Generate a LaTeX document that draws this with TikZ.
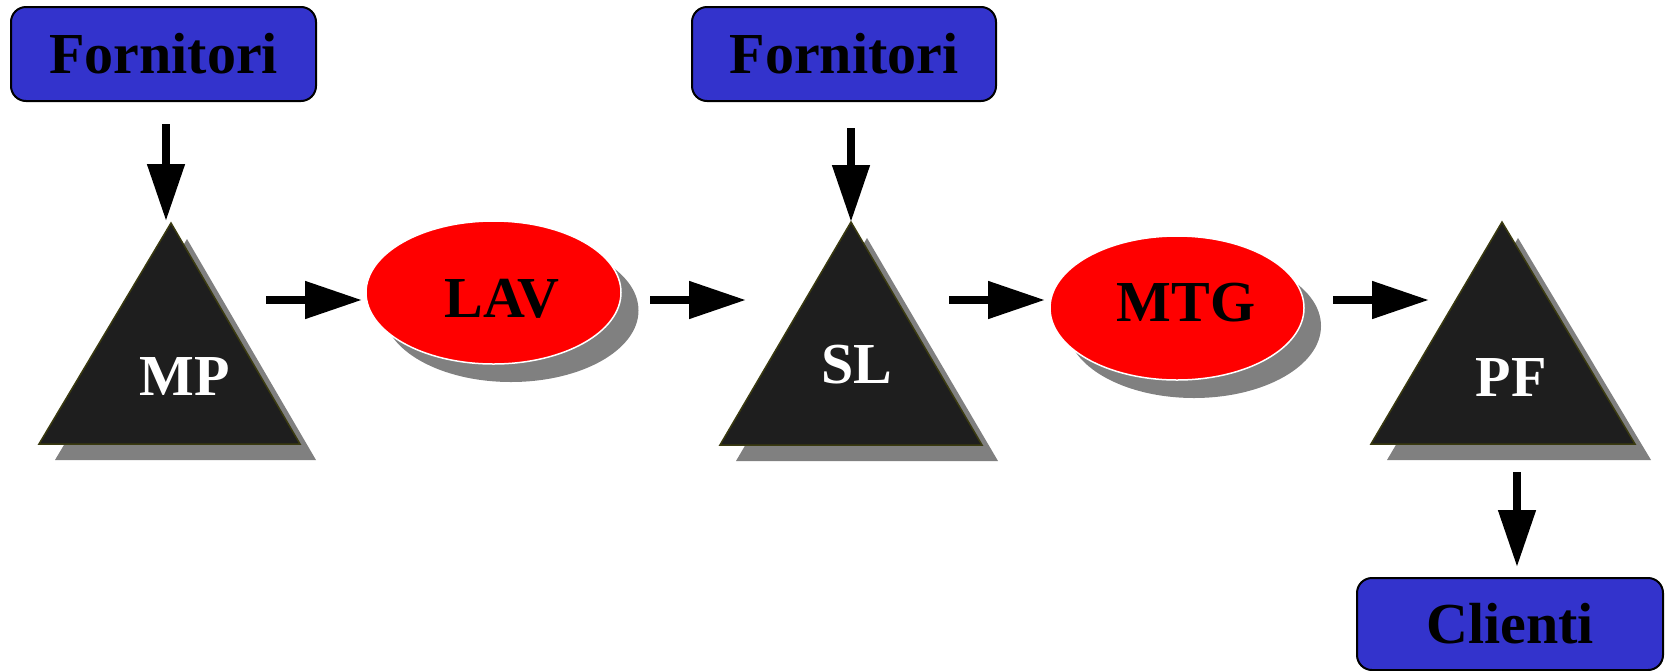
\documentclass[tikz,border=0pt]{standalone}
\usepackage{fontspec}
\setmainfont{Liberation Serif}
\usetikzlibrary{arrows.meta,shapes.geometric}
\definecolor{boxblue}{HTML}{3333CC}
\definecolor{trifill}{HTML}{1E1E1E}
\definecolor{triline}{HTML}{3A3A10}
\definecolor{shadowgray}{HTML}{808080}
\definecolor{ellred}{HTML}{FF0000}
\begin{document}
\begin{tikzpicture}[x=1pt,y=-1pt,
  bigfont/.style={font=\bfseries\fontsize{58}{60}\selectfont},
  boxnode/.style={draw=black, line width=2pt, fill=boxblue, rounded corners=15pt,
    inner sep=0pt, bigfont},
  trishape/.style={fill=trifill, draw=triline, line width=1.5pt, line join=miter},
  shadowfill/.style={fill=shadowgray},
  ellnode/.style={ellipse, fill=ellred, draw=white, line width=1.5pt, inner sep=0pt},
  ellshadow/.style={ellipse, fill=shadowgray, inner sep=0pt},
  trilabel/.style={bigfont, text=white, inner sep=0pt},
  elllabel/.style={bigfont, text=black, inner sep=0pt},
  arr/.style={line width=8pt, -{Triangle[length=57pt,width=36pt]}}
]
\useasboundingbox (0,0) rectangle (1668,670);

% boxes
\node[boxnode, minimum width=305pt, minimum height=94pt] (forn1) at (163.5,54) {Fornitori};
\node[boxnode, minimum width=304pt, minimum height=94pt] (forn2) at (844,54) {Fornitori};
\node[boxnode, minimum width=306pt, minimum height=92pt] (clienti) at (1510,624) {Clienti};

% triangle MP
\coordinate (mpA) at (171,223);
\coordinate (mpL) at (39,444);
\coordinate (mpR) at (300,444);
\fill[shadowfill] ([shift={(16,16)}]mpA) -- ([shift={(16,16)}]mpL) -- ([shift={(16,16)}]mpR) -- cycle;
\draw[trishape] (mpA) -- (mpL) -- (mpR) -- cycle;
\node[trilabel] (mp) at (185,377) {MP};

% triangle SL
\coordinate (slA) at (851,222);
\coordinate (slL) at (720,445);
\coordinate (slR) at (982,445);
\fill[shadowfill] ([shift={(16,16)}]slA) -- ([shift={(16,16)}]slL) -- ([shift={(16,16)}]slR) -- cycle;
\draw[trishape] (slA) -- (slL) -- (slR) -- cycle;
\node[trilabel] (sl) at (857,365) {SL};

% triangle PF
\coordinate (pfA) at (1502,222);
\coordinate (pfL) at (1371,444);
\coordinate (pfR) at (1635,444);
\fill[shadowfill] ([shift={(16,16)}]pfA) -- ([shift={(16,16)}]pfL) -- ([shift={(16,16)}]pfR) -- cycle;
\draw[trishape] (pfA) -- (pfL) -- (pfR) -- cycle;
\node[trilabel] (pf) at (1511,378) {PF};

% ellipses
\node[ellshadow, minimum width=255pt, minimum height=143pt] (lavsh) at (511,310.5) {};
\node[ellnode, minimum width=255pt, minimum height=143pt] (lavell) at (493.5,292.5) {};
\node[elllabel] (lav) at (502,299) {LAV};

\node[ellshadow, minimum width=254pt, minimum height=144pt] (mtgsh) at (1194,326) {};
\node[ellnode, minimum width=254pt, minimum height=144pt] (mtgell) at (1177,308) {};
\node[elllabel] (mtg) at (1186,303) {MTG};

% arrow endpoints
\coordinate (d1s) at (166,124);  \coordinate (d1e) at (166,221);
\coordinate (d2s) at (851,128);  \coordinate (d2e) at (851,222);
\coordinate (d3s) at (1517,472); \coordinate (d3e) at (1517,567);
\coordinate (h1s) at (266,300);  \coordinate (h1e) at (362,300);
\coordinate (h2s) at (650,300);  \coordinate (h2e) at (746,300);
\coordinate (h3s) at (949,300);  \coordinate (h3e) at (1045,300);
\coordinate (h4s) at (1333,300); \coordinate (h4e) at (1429,300);

\draw[arr] (d1s) -- (d1e);
\draw[arr] (d2s) -- (d2e);
\draw[arr] (d3s) -- (d3e);
\draw[arr] (h1s) -- (h1e);
\draw[arr] (h2s) -- (h2e);
\draw[arr] (h3s) -- (h3e);
\draw[arr] (h4s) -- (h4e);
\end{tikzpicture}
\end{document}
